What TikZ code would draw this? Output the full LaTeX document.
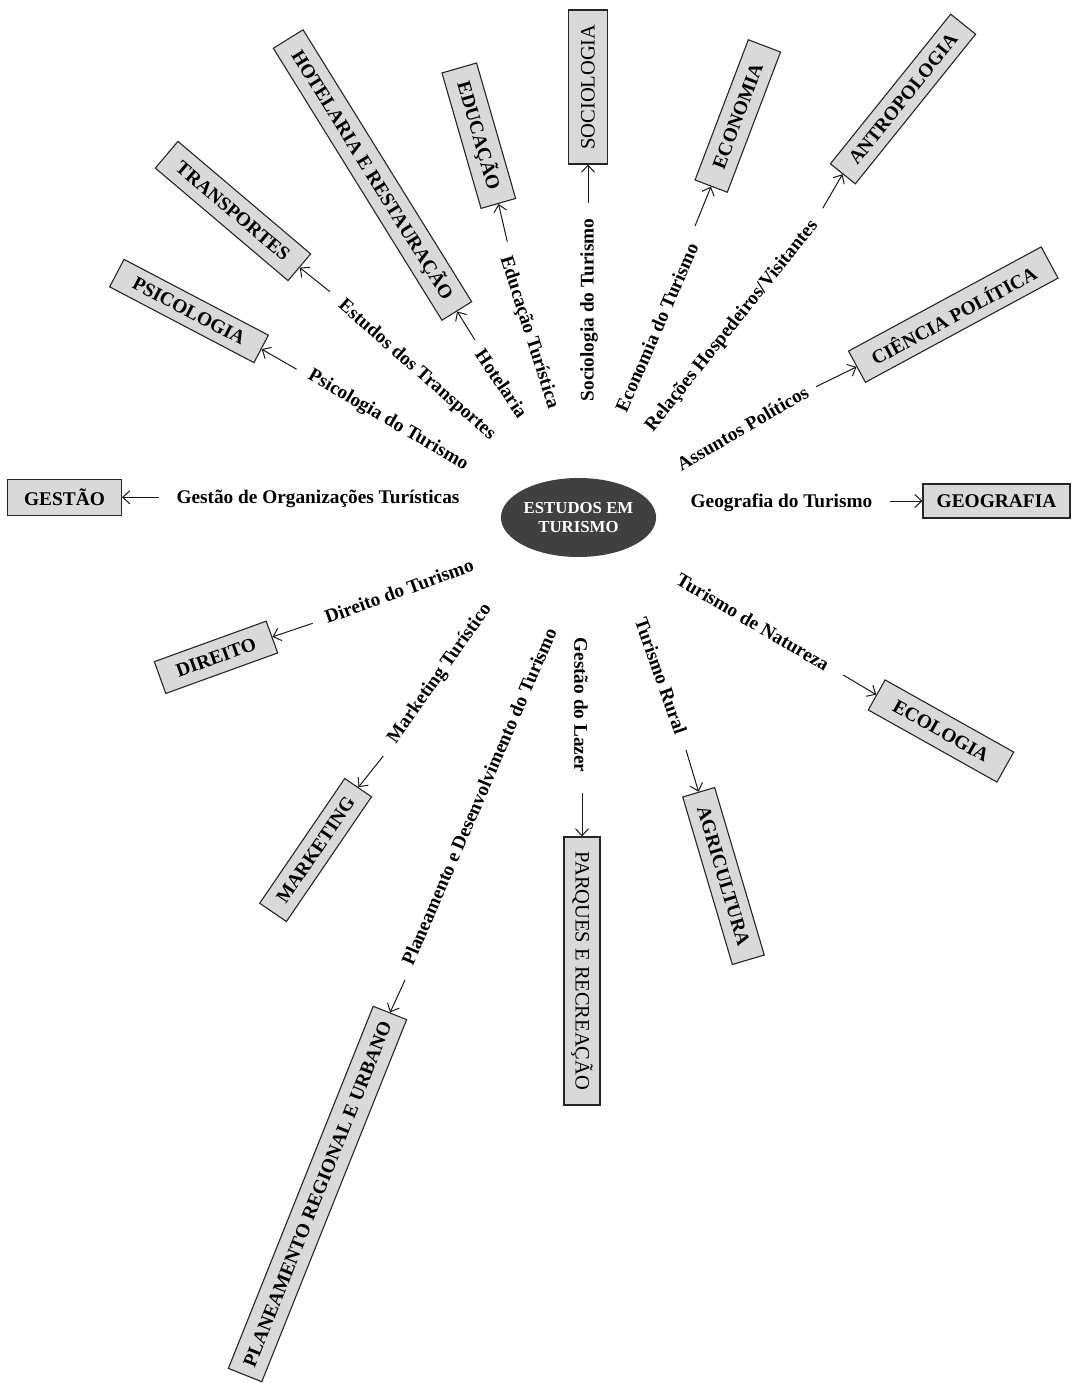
\documentclass[tikz,border=0pt]{standalone}
\usepackage{fontspec}
\setmainfont{Liberation Serif}
\usetikzlibrary{arrows.meta,shapes.geometric}
\definecolor{boxgray}{HTML}{D9D9D9}
\definecolor{hubgray}{HTML}{404040}
\begin{document}
\begin{tikzpicture}[x=1pt,y=-1pt,
  discipline/.style={draw=black!85, fill=boxgray, line width=1.1pt, inner sep=0pt,
    font=\fontsize{19.4}{22}\selectfont\bfseries, text=black},
  plaindiscipline/.style={discipline, font=\fontsize{20.5}{23}\selectfont},
  topic/.style={font=\fontsize{19.3}{22}\selectfont\bfseries, inner sep=0pt, text=black},
  link/.style={line width=1pt, black!90, -{Straight Barb[length=7pt,width=13pt]}},
]
\useasboundingbox (0,0) rectangle (1071,1383);

% central hub
\node[ellipse, fill=hubgray, minimum width=127pt, minimum height=79pt, inner sep=0pt,
  text=white, align=center, font=\fontsize{16.8}{19}\selectfont\bfseries]
  (hub) at (578.5,517.5) {ESTUDOS EM\\TURISMO};

% disciplines
\node[discipline, minimum width=114pt, minimum height=36pt] (gestao) at (64.5,497.3) {GESTÃO};
\node[discipline, rotate=-27.7, minimum width=163pt, minimum height=31pt] (psico) at (189,311) {PSICOLOGIA};
\node[discipline, rotate=-40.3, minimum width=174pt, minimum height=35pt] (transp) at (233,211) {TRANSPORTES};
\node[discipline, rotate=-58.2, minimum width=320pt, minimum height=35pt] (hotel) at (372.5,175) {HOTELARIA E RESTAURAÇÃO};
\node[discipline, rotate=-73.9, minimum width=141pt, minimum height=36pt] (educ) at (478.8,135.7) {EDUCAÇÃO};
\node[plaindiscipline, rotate=90, minimum width=154pt, minimum height=39pt] (socio) at (588,87) {SOCIOLOGIA};
\node[discipline, rotate=69.2, minimum width=150pt, minimum height=34.5pt] (econ) at (737.8,116) {ECONOMIA};
\node[discipline, rotate=51.2, minimum width=192pt, minimum height=32pt] (antro) at (903,99) {ANTROPOLOGIA};
\node[discipline, rotate=28.4, minimum width=219pt, minimum height=35.5pt] (cpol) at (953.3,314.6) {CIÊNCIA POLÍTICA};
\node[discipline, minimum width=147pt, minimum height=34pt] (geo) at (996.5,501) {GEOGRAFIA};
\node[discipline, rotate=-29.3, minimum width=147.5pt, minimum height=34.4pt] (ecol) at (941,731) {ECOLOGIA};
\node[discipline, rotate=-73.5, minimum width=174.7pt, minimum height=33.3pt] (agri) at (723.5,876) {AGRICULTURA};
\node[plaindiscipline, rotate=-90, minimum width=268pt, minimum height=36pt] (parq) at (582,971) {PARQUES E RECREAÇÃO};
\node[discipline, rotate=68.2, minimum width=390pt, minimum height=36pt] (plan) at (317.5,1194) {PLANEAMENTO REGIONAL E URBANO};
\node[discipline, rotate=55.7, minimum width=151pt, minimum height=32.4pt] (mkt) at (315.6,850) {MARKETING};
\node[discipline, rotate=19.9, minimum width=119pt, minimum height=33.8pt] (dir) at (216,657.3) {DIREITO};

% fields of study
\node[topic] (t-gestao) at (318,499) {Gestão de Organizações Turísticas};
\node[topic, rotate=-30.1] (t-psico) at (388,420.5) {Psicologia do Turismo};
\node[topic, rotate=-41.2] (t-transp) at (416.7,370) {Estudos dos Transportes};
\node[topic, rotate=-56] (t-hotel) at (501.7,383.4) {Hotelaria};
\node[topic, rotate=-72.3] (t-educ) at (529,332.5) {Educação Turística};
\node[topic, rotate=90] (t-socio) at (589,310) {Sociologia do Turismo};
\node[topic, rotate=66.5] (t-econ) at (656.7,327.5) {Economia do Turismo};
\node[topic, rotate=51.3] (t-antro) at (732,326) {Relações Hospedeiros/Visitantes};
\node[topic, rotate=30.2] (t-cpol) at (742.5,428) {Assuntos Políticos};
\node[topic] (t-geo) at (781.5,503) {Geografia do Turismo};
\node[topic, rotate=-30.5] (t-ecol) at (753,622) {Turismo de Natureza};
\node[topic, rotate=-70.6] (t-agri) at (661,676) {Turismo Rural};
\node[topic, rotate=-90] (t-parq) at (581,705) {Gestão do Lazer};
\node[topic, rotate=66.7] (t-plan) at (479,796.5) {Planeamento e Desenvolvimento do Turismo};
\node[topic, rotate=54.8] (t-mkt) at (440,674) {Marketing Turístico};
\node[topic, rotate=20] (t-dir) at (399,591) {Direito do Turismo};

% arrow tails
\coordinate (a-gestao) at (159.3,497.3);
\coordinate (a-psico) at (296.7,369.3);
\coordinate (a-transp) at (330,291.7);
\coordinate (a-hotel) at (475,340);
\coordinate (a-educ) at (507.3,241.7);
\coordinate (a-socio) at (588,203.3);
\coordinate (a-econ) at (695,226);
\coordinate (a-antro) at (822.7,208.3);
\coordinate (a-cpol) at (816,386.7);
\coordinate (a-geo) at (890.4,501);
\coordinate (a-ecol) at (843.3,675);
\coordinate (a-agri) at (686,750);
\coordinate (a-parq) at (582,793.3);
\coordinate (a-plan) at (405,980);
\coordinate (a-mkt) at (383.3,756);
\coordinate (a-dir) at (312.7,623.3);

% connectors
\draw[link] (a-gestao) -- (gestao.east);
\draw[link] (a-psico) -- (psico.east);
\draw[link] (a-transp) -- (transp.east);
\draw[link] (a-hotel) -- (hotel.east);
\draw[link] (a-educ) -- (educ.east);
\draw[link] (a-socio) -- (socio.west);
\draw[link] (a-econ) -- (econ.west);
\draw[link] (a-antro) -- (antro.west);
\draw[link] (a-cpol) -- (cpol.west);
\draw[link] (a-geo) -- (geo.west);
\draw[link] (a-ecol) -- (ecol.west);
\draw[link] (a-agri) -- (agri.west);
\draw[link] (a-parq) -- (parq.west);
\draw[link] (a-plan) -- (plan.east);
\draw[link] (a-mkt) -- (mkt.east);
\draw[link] (a-dir) -- (dir.east);
\end{tikzpicture}
\end{document}
